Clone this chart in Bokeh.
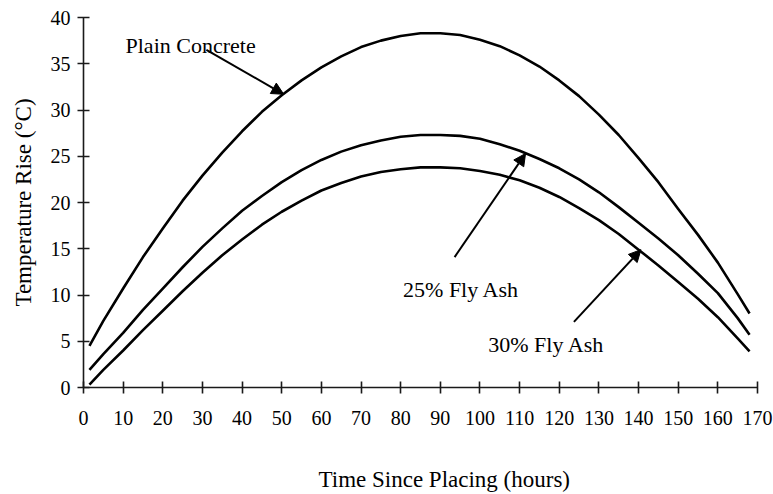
from bokeh.plotting import figure
from bokeh.models import Arrow, NormalHead, Label, FixedTicker, LinearAxis
from bokeh.embed import file_html
from bokeh.resources import INLINE

# Temperature rise of concrete mixes versus time since placing (hours)
hours = [1.5, 5, 10, 15, 20, 25, 30, 35, 40, 45, 50, 55, 60, 65, 70, 75, 80, 85,
         90, 95, 100, 105, 110, 115, 120, 125, 130, 135, 140, 145, 150, 155, 160, 165, 168]
plain_concrete = [4.5, 7.2, 10.7, 14.1, 17.2, 20.2, 22.9, 25.4, 27.7, 29.8, 31.6, 33.2,
                  34.6, 35.8, 36.8, 37.5, 38.0, 38.3, 38.3, 38.1, 37.6, 36.9, 35.9, 34.7,
                  33.2, 31.5, 29.5, 27.3, 24.8, 22.2, 19.3, 16.5, 13.5, 10.1, 8.0]
fly_ash_25 = [1.9, 3.6, 5.9, 8.4, 10.7, 13.0, 15.2, 17.2, 19.1, 20.7, 22.2, 23.5,
              24.6, 25.5, 26.2, 26.7, 27.1, 27.3, 27.3, 27.2, 26.9, 26.3, 25.6, 24.7,
              23.7, 22.5, 21.1, 19.5, 17.8, 16.1, 14.3, 12.3, 10.2, 7.5, 5.7]
fly_ash_30 = [0.3, 1.9, 4.0, 6.2, 8.3, 10.4, 12.4, 14.3, 16.0, 17.6, 19.0, 20.2,
              21.3, 22.1, 22.8, 23.3, 23.6, 23.8, 23.8, 23.7, 23.4, 23.0, 22.4, 21.6,
              20.6, 19.4, 18.1, 16.6, 14.9, 13.2, 11.4, 9.6, 7.6, 5.3, 3.9]

x_ticks = list(range(0, 171, 10))
y_ticks = list(range(0, 41, 5))

FONT = "Liberation Serif"

p = figure(width=773, height=494, x_range=(0, 170), y_range=(0, 40),
           output_backend="svg", toolbar_location=None,
           min_border_left=83, min_border_right=16,
           min_border_top=17, min_border_bottom=107)
p.outline_line_color = None
p.grid.visible = False
p.background_fill_color = "white"
p.border_fill_color = "white"

for ax, ticks in ((p.xaxis, x_ticks), (p.yaxis, y_ticks)):
    ax.ticker = FixedTicker(ticks=ticks)
    ax.axis_line_width = 1.6
    ax.axis_line_color = "#1a1a1a"
    ax.major_tick_in = 6
    ax.major_tick_out = 6
    ax.major_tick_line_width = 1.6
    ax.major_tick_line_color = "#1a1a1a"
    ax.minor_tick_line_color = None
    ax.major_label_text_font = FONT
    ax.major_label_text_font_size = "20px"
    ax.major_label_text_color = "black"

p.xaxis.major_label_standoff = 17
p.yaxis.major_label_standoff = 7
p.yaxis.axis_label = "Temperature Rise (°C)"
p.yaxis.axis_label_standoff = 12
p.yaxis.axis_label_text_font = FONT
p.yaxis.axis_label_text_font_size = "23px"
p.yaxis.axis_label_text_font_style = "normal"
p.yaxis.axis_label_text_color = "black"

# x-axis title: a bare extra axis below the tick labels, centred at 91 h
title_axis = LinearAxis(ticker=FixedTicker(ticks=[91]),
                        major_label_overrides={91: "Time Since Placing (hours)"},
                        axis_line_color=None, major_tick_line_color=None,
                        minor_tick_line_color=None, major_tick_in=0, major_tick_out=0,
                        major_label_standoff=39, major_label_text_font=FONT,
                        major_label_text_font_size="23px",
                        major_label_text_line_height=0.7,
                        major_label_text_color="black")
p.add_layout(title_axis, "below")

for series in (plain_concrete, fly_ash_25, fly_ash_30):
    p.line(hours, series, line_color="black", line_width=2.6, line_join="round")

# Curve labels with pointer arrows
labels = [
    ("Plain Concrete", 10.6, 37.0),
    ("25% Fly Ash", 80.6, 10.6),
    ("30% Fly Ash", 102.1, 4.7),
]
for text, lx, ly in labels:
    p.add_layout(Label(x=lx, y=ly, text=text, text_font=FONT, text_font_size="22px",
                       text_color="black", text_baseline="alphabetic"))

arrows = [
    (31.0, 36.5, 50.5, 31.7),
    (93.6, 14.1, 111.5, 25.3),
    (123.7, 7.1, 140.6, 14.9),
]
for xs, ys, xe, ye in arrows:
    p.add_layout(Arrow(x_start=xs, y_start=ys, x_end=xe, y_end=ye, line_width=2,
                       line_color="black",
                       end=NormalHead(size=12, fill_color="black", line_color="black",
                                      line_width=1)))

open("out.html", "w").write(file_html(p, INLINE))
